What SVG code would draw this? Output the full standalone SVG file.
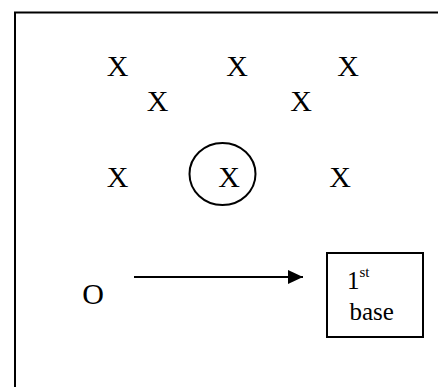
<svg xmlns="http://www.w3.org/2000/svg" width="438" height="387" viewBox="0 0 438 387">
  <style>
    text { font-family: 'Liberation Serif', 'DejaVu Serif', serif; fill: #000; }
    .big { font-size: 30px; text-anchor: middle; }
    .base { font-size: 25px; }
    .sup { font-size: 15px; }
    .ln { fill: none; stroke: #000; stroke-width: 2; }
  </style>
  <defs>
    <marker id="arrowhead" markerWidth="15" markerHeight="14" refX="15" refY="7" orient="auto" markerUnits="userSpaceOnUse">
      <path d="M0,0 L15,7 L0,14 Z" fill="#000"/>
    </marker>
  </defs>

  <!-- field frame: top and left edges only -->
  <path class="ln" d="M15,387 V12.5 H438"/>

  <!-- fielders -->
  <g id="fielder-1"><text class="big" x="117.5" y="76" font-family="Liberation Serif">X</text></g>
  <g id="fielder-2"><text class="big" x="237" y="76">X</text></g>
  <g id="fielder-3"><text class="big" x="348" y="76">X</text></g>
  <g id="fielder-4"><text class="big" x="157.5" y="111">X</text></g>
  <g id="fielder-5"><text class="big" x="301" y="111">X</text></g>
  <g id="fielder-6"><text class="big" x="117.5" y="187">X</text></g>
  <g id="fielder-circled">
    <ellipse class="ln" cx="222.5" cy="174" rx="33" ry="31"/>
    <text class="big" x="229" y="187">X</text>
  </g>
  <g id="fielder-8"><text class="big" x="340" y="187">X</text></g>

  <!-- runner -->
  <g id="runner"><text class="big" x="93" y="304">O</text></g>

  <!-- first base -->
  <g id="first-base">
    <rect class="ln" x="327" y="253" width="96" height="84"/>
    <text class="base" x="347" y="289">1<tspan class="sup" dy="-12">st</tspan></text>
    <text class="base" x="349.5" y="320">base</text>
  </g>

  <!-- connectors -->
  <g id="connectors">
    <line class="ln" x1="134" y1="277" x2="303" y2="277" marker-end="url(#arrowhead)"/>
  </g>
</svg>
